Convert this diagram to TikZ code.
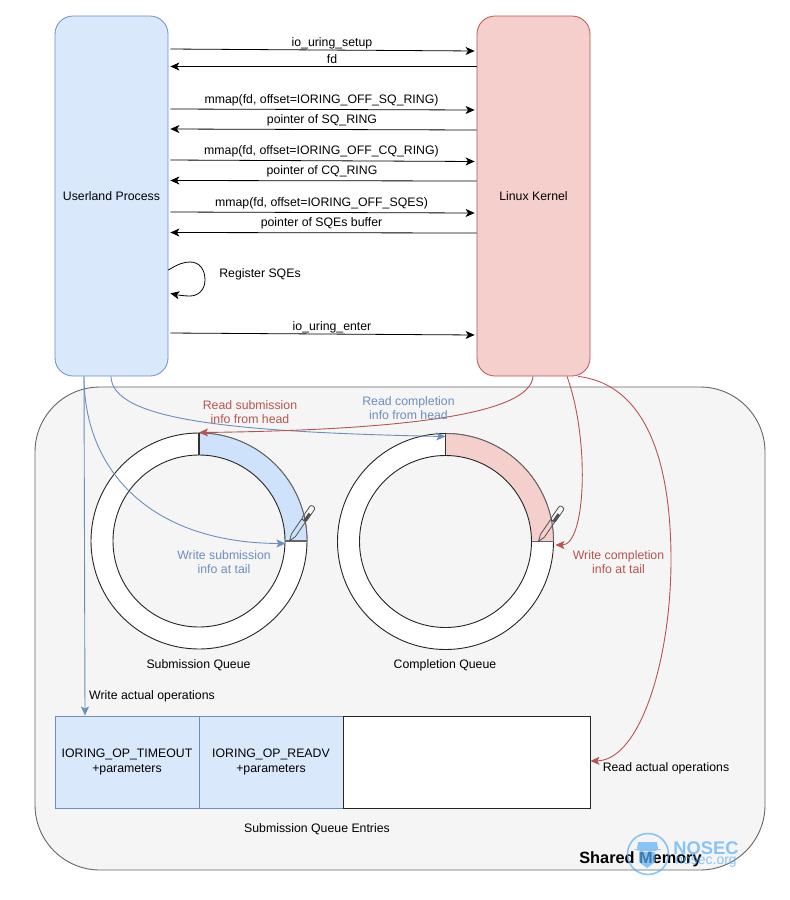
\documentclass[tikz,border=0pt]{standalone}
\usepackage{fontspec}
\setmainfont{Liberation Sans}
\usetikzlibrary{arrows.meta,calc}
\definecolor{bluefill}{HTML}{DAE8FC}
\definecolor{ringblue}{HTML}{CFE2FB}
\definecolor{blueline}{HTML}{6C8EBF}
\definecolor{redfill}{HTML}{F4CFCC}
\definecolor{redline}{HTML}{B85450}
\definecolor{sharedfill}{HTML}{F5F5F5}
\definecolor{sharedline}{HTML}{666666}
\definecolor{logoblue}{HTML}{5BAEF5}
\newcommand{\PenAt}[1]{%
  \begin{scope}[shift={(#1)},rotate=55.6,x=1pt,y=1pt]
    \draw[sharedline!80!black,line width=.8pt,line join=round] (0,0) -- (7,2.4) -- (25,2.4) -- (25,-2.4) -- (7,-2.4) -- cycle;
    \draw[sharedline!80!black,line width=.8pt,rounded corners=2pt] (25,-2.8) rectangle (42,2.8);
    \fill[sharedline!80!black] (25,-2.8) rectangle (34,0.2);
  \end{scope}}
\tikzset{
  x=1pt,y=-1pt,
  every node/.style={font=\fontsize{12.3}{14.3}\selectfont,align=center,inner sep=0pt,text=black},
  proc/.style={draw,rounded corners=18pt,minimum width=113pt,minimum height=360pt,line width=.8pt},
  ring/.style={circle,draw=black!85,line width=.9pt,minimum size=216pt,fill=white},
  hole/.style={circle,draw=black!85,line width=.9pt,minimum size=172pt,fill=sharedfill},
  msg/.style={-{Stealth[length=9pt,width=8pt,inset=2.5pt]},black,line width=.8pt},
  bluearrow/.style={-{Stealth[length=9pt,width=8pt,inset=2pt]},blueline,line width=.9pt},
  redarrow/.style={-{Stealth[length=9pt,width=8pt,inset=2pt]},redline,line width=.9pt},
  bluetext/.style={text=blueline},
  redtext/.style={text=redline},
  entry/.style={draw=blueline,fill=bluefill,line width=.9pt,minimum width=144pt,minimum height=92pt},
}
\begin{document}
\begin{tikzpicture}
\useasboundingbox (0,0) rectangle (790,900);

% shared memory
\node[draw=sharedline,fill=sharedfill,rounded corners=65pt,minimum width=730pt,minimum height=483pt,line width=.9pt] (shared) at (400,628.5) {};

% processes
\node[proc,draw=blueline,fill=bluefill] (user) at (111.5,196) {\raisebox{-.5pt}{Userland Process}};
\node[proc,draw=redline,fill=redfill] (kern) at (533.5,196) {\raisebox{-.5pt}{Linux Kernel}};

% rings
\node[ring] (ringA) at (199,541) {};
\fill[ringblue] (199,433) arc[start angle=90,end angle=0,radius=108pt] -- (285,541.5) arc[start angle=0,end angle=90,radius=86pt] -- cycle;
\draw[sharedline,line width=.9pt] (199,433) arc[start angle=90,end angle=0,radius=108pt];
\node[hole] (holeA) at (199,541) {};
\node[ring] (ringB) at (445.5,541.5) {};
\fill[redfill] (445.5,433.5) arc[start angle=90,end angle=0,radius=108pt] -- (531.5,542) arc[start angle=0,end angle=90,radius=86pt] -- cycle;
\draw[sharedline,line width=.9pt] (445.5,433.5) arc[start angle=90,end angle=0,radius=108pt];
\node[hole] (holeB) at (445.5,541.5) {};
\draw[black!80,line width=1.6pt] (ringA.north) -- (holeA.north);
\draw[black!80,line width=1.6pt] (ringB.north) -- (holeB.north);
\draw[sharedline,line width=1.5pt] (holeA.east) -- (ringA.east);
\draw[sharedline,line width=1.5pt] (holeB.east) -- (ringB.east);
\PenAt{289.5,541}
\PenAt{538.5,541.5}

% entries
\node[entry] (opA) at (127,762) {IORING\_OP\_TIMEOUT\\+parameters};
\node[entry] (opB) at (271,762) {IORING\_OP\_READV\\+parameters};
\node[draw=black!85,fill=white,line width=.9pt,minimum width=247pt,minimum height=92pt] (opC) at (466.5,762) {};

% messages
\draw[msg,shorten <=2pt,shorten >=2pt] (user.east |- 0,49) -- (kern.west |- 0,51);
\draw[msg,shorten >=2pt] (kern.west |- 0,66.5) -- (user.east |- 0,66.5);
\draw[msg,shorten <=2pt,shorten >=2pt] (user.east |- 0,109) -- (kern.west |- 0,110);
\draw[msg,shorten >=2pt] (kern.west |- 0,130) -- (user.east |- 0,129);
\draw[msg,shorten <=2pt,shorten >=2pt] (user.east |- 0,160) -- (kern.west |- 0,161.5);
\draw[msg,shorten >=2pt] (kern.west |- 0,181) -- (user.east |- 0,180.5);
\draw[msg,shorten <=2pt,shorten >=2pt] (user.east |- 0,212) -- (kern.west |- 0,213);
\draw[msg,shorten >=2pt] (kern.west |- 0,233) -- (user.east |- 0,232.5);
\draw[msg,shorten <=2pt,shorten >=2pt] (user.east |- 0,333) -- (kern.west |- 0,335);
\draw[msg,shorten >=2pt] (user.east |- 0,270) .. controls (178,264) and (184,262) .. (190,262) .. controls (200,262) and (205,270) .. (205,280) .. controls (205,290) and (198,296) .. (190,296) .. controls (184,296) and (178,295) .. (user.east |- 0,293);

\node (l1) at (332,43) {io\_uring\_setup};
\node (l2) at (332,59.5) {fd};
\node (l3) at (321.5,100) {mmap(fd, offset=IORING\_OFF\_SQ\_RING)};
\node (l4) at (322,120.5) {pointer of SQ\_RING};
\node (l5) at (321.5,151) {mmap(fd, offset=IORING\_OFF\_CQ\_RING)};
\node (l6) at (322,171.5) {pointer of CQ\_RING};
\node (l7) at (321.5,203) {mmap(fd, offset=IORING\_OFF\_SQES)};
\node (l8) at (321.5,223.5) {pointer of SQEs buffer};
\node (l9) at (260,274) {Register SQEs};
\node (l10) at (332,327) {io\_uring\_enter};

% shared memory connectors
\draw[bluearrow] (84,0 |- user.south) -- (85,0 |- opA.north);
\draw[bluearrow] (84,0 |- user.south) .. controls (84,470) and (150,543) .. ([yshift=-2.5pt]holeA.east);
\draw[bluearrow] (111,0 |- user.south) .. controls (112,420) and (230,432) .. ([yshift=-3.5pt]ringB.north);
\draw[redarrow] (533,0 |- kern.south) .. controls (530,415) and (400,430) .. (ringA.north);
\draw[redarrow] (567,0 |- kern.south) .. controls (590,440) and (586,545) .. ([yshift=-3.5pt,xshift=1.5pt]ringB.east);
\draw[redarrow] (578,0 |- kern.south) .. controls (650,385) and (671,470) .. (671,560) .. controls (671,660) and (640,760) .. (opC.east |- 0,761);

\node[redtext] (t1) at (250,412) {Read submission\\info from head};
\node[bluetext] (t2) at (408.5,408) {Read completion\\info from head};
\node[bluetext] (t3) at (224,562) {Write submission\\info at tail};
\node[redtext] (t4) at (618.5,562) {Write completion\\info at tail};
\node (t5) at (198.5,665.5) {Submission Queue};
\node (t6) at (445,665.5) {Completion Queue};
\node (t7) at (152,696) {Write actual operations};
\node (t8) at (666,768.5) {Read actual operations};
\node (t9) at (317,829.5) {Submission Queue Entries};
\node[font=\fontsize{16.3}{18}\bfseries\selectfont] (t10) at (640.5,859) {Shared Memory};

% watermark
\begin{scope}[opacity=.7]
  \node[circle,draw=logoblue,line width=1.6pt,minimum size=41pt] (logo) at (648,854) {};
  \fill[logoblue] (638,842) -- (657,842) -- (658,849) -- (662,849) -- (655,851) -- (640,851) -- (633,849) -- (637,849) -- cycle;
  \fill[logoblue] (639,852) -- (655,852) -- (655,862) -- (647,868) -- (639,862) -- cycle;
  \node[text=logoblue,font=\fontsize{18.3}{20}\bfseries\selectfont,text opacity=.7] (wm1) at (706,848) {NOSEC};
  \node[text=logoblue,font=\fontsize{14}{15}\selectfont,text opacity=.7] (wm2) at (706,862) {nosec.org};
\end{scope}
\end{tikzpicture}
\end{document}
